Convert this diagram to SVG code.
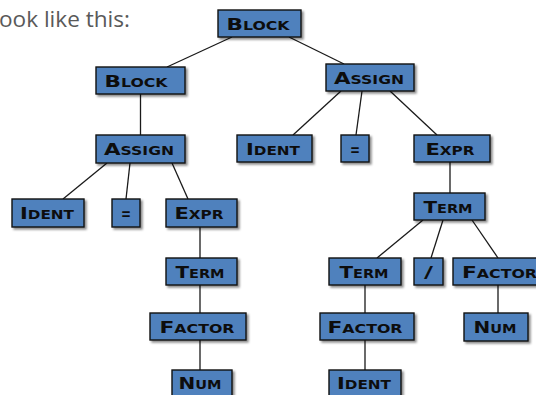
<svg xmlns="http://www.w3.org/2000/svg" width="536" height="395" viewBox="0 0 536 395">
<style>
.box{fill:#4F81BD;stroke:#111;stroke-width:1.4;filter:url(#sh)}
.lbl{font-family:"DejaVu Sans",sans-serif;font-weight:bold;font-variant:small-caps;font-size:16.5px;fill:#0d0d0d;text-anchor:middle}
.edge{stroke:#1a1a1a;stroke-width:1.3;fill:none}
.cap{font-family:"Open Sans","Liberation Sans",sans-serif;font-size:21px;fill:#595959}
</style>
<defs>
<filter id="sh" x="-20%" y="-30%" width="140%" height="170%">
<feDropShadow dx="2" dy="2" stdDeviation="1.2" flood-color="#000" flood-opacity="0.45"/>
</filter>
</defs>
<rect width="536" height="395" fill="#fff"/>
<text class="cap" x="-1" y="27" textLength="131" lengthAdjust="spacingAndGlyphs">ook like this:</text>
<g id="connectors">
<line class="edge" x1="232" y1="37" x2="167" y2="67"/>
<line class="edge" x1="289" y1="37" x2="344" y2="64"/>
<line class="edge" x1="140.5" y1="94" x2="140.5" y2="135"/>
<line class="edge" x1="107" y1="163" x2="63" y2="199"/>
<line class="edge" x1="130" y1="163" x2="126" y2="199"/>
<line class="edge" x1="172" y1="163" x2="188" y2="199"/>
<line class="edge" x1="200" y1="227" x2="200" y2="258"/>
<line class="edge" x1="200" y1="285" x2="200" y2="313"/>
<line class="edge" x1="200" y1="340" x2="200" y2="370"/>
<line class="edge" x1="341" y1="91" x2="293" y2="135"/>
<line class="edge" x1="362" y1="91" x2="356" y2="135"/>
<line class="edge" x1="390" y1="91" x2="437" y2="135"/>
<line class="edge" x1="450" y1="162" x2="450" y2="193"/>
<line class="edge" x1="423" y1="220" x2="377" y2="258"/>
<line class="edge" x1="443" y1="220" x2="431" y2="258"/>
<line class="edge" x1="472" y1="220" x2="498" y2="258"/>
<line class="edge" x1="365" y1="285" x2="365" y2="313"/>
<line class="edge" x1="365" y1="340" x2="365" y2="370"/>
<line class="edge" x1="498" y1="285" x2="498" y2="313"/>
</g>
<g id="block_root"><rect class="box" x="218" y="10" width="83" height="27"/><text class="lbl" x="258" y="30" textLength="63" lengthAdjust="spacingAndGlyphs">Block</text></g>
<g id="block"><rect class="box" x="96" y="67" width="89" height="27"/><text class="lbl" x="136" y="87" textLength="63" lengthAdjust="spacingAndGlyphs">Block</text></g>
<g id="assign_r"><rect class="box" x="326" y="64" width="88" height="27"/><text class="lbl" x="369" y="84" textLength="70" lengthAdjust="spacingAndGlyphs">Assign</text></g>
<g id="assign_l"><rect class="box" x="96" y="135" width="89" height="28"/><text class="lbl" x="139" y="155" textLength="70" lengthAdjust="spacingAndGlyphs">Assign</text></g>
<g id="ident_r"><rect class="box" x="237" y="135" width="75" height="27"/><text class="lbl" x="273" y="155" textLength="54" lengthAdjust="spacingAndGlyphs">Ident</text></g>
<g id="eq_r"><rect class="box" x="341" y="135" width="28" height="27"/><text class="lbl" x="355" y="155" textLength="10" lengthAdjust="spacingAndGlyphs">=</text></g>
<g id="expr_r"><rect class="box" x="414" y="135" width="76" height="27"/><text class="lbl" x="450" y="155" textLength="49" lengthAdjust="spacingAndGlyphs">Expr</text></g>
<g id="ident_l"><rect class="box" x="12" y="199" width="72" height="28"/><text class="lbl" x="47" y="219" textLength="54" lengthAdjust="spacingAndGlyphs">Ident</text></g>
<g id="eq_l"><rect class="box" x="112" y="199" width="28" height="28"/><text class="lbl" x="126" y="219" textLength="10" lengthAdjust="spacingAndGlyphs">=</text></g>
<g id="expr_l"><rect class="box" x="166" y="199" width="71" height="28"/><text class="lbl" x="199" y="219" textLength="49" lengthAdjust="spacingAndGlyphs">Expr</text></g>
<g id="term_r"><rect class="box" x="414" y="193" width="71" height="27"/><text class="lbl" x="448" y="213" textLength="49" lengthAdjust="spacingAndGlyphs">Term</text></g>
<g id="term_l"><rect class="box" x="166" y="258" width="71" height="27"/><text class="lbl" x="200" y="278" textLength="49" lengthAdjust="spacingAndGlyphs">Term</text></g>
<g id="term_rl"><rect class="box" x="329" y="258" width="72" height="27"/><text class="lbl" x="364" y="278" textLength="49" lengthAdjust="spacingAndGlyphs">Term</text></g>
<g id="slash"><rect class="box" x="414" y="258" width="29" height="27"/><text class="lbl" x="428.5" y="278" textLength="9" lengthAdjust="spacingAndGlyphs">/</text></g>
<g id="factor_rr"><rect class="box" x="453" y="258" width="92" height="27"/><text class="lbl" x="499.5" y="278" textLength="75" lengthAdjust="spacingAndGlyphs">Factor</text></g>
<g id="factor_l"><rect class="box" x="150" y="313" width="96" height="27"/><text class="lbl" x="197" y="333" textLength="75" lengthAdjust="spacingAndGlyphs">Factor</text></g>
<g id="factor_rl"><rect class="box" x="320" y="313" width="94" height="27"/><text class="lbl" x="365" y="333" textLength="75" lengthAdjust="spacingAndGlyphs">Factor</text></g>
<g id="num_rr"><rect class="box" x="464" y="313" width="64" height="28"/><text class="lbl" x="495" y="333" textLength="43" lengthAdjust="spacingAndGlyphs">Num</text></g>
<g id="num_l"><rect class="box" x="172" y="370" width="60" height="27"/><text class="lbl" x="200" y="389" textLength="43" lengthAdjust="spacingAndGlyphs">Num</text></g>
<g id="ident_b"><rect class="box" x="329" y="370" width="72" height="27"/><text class="lbl" x="364" y="389" textLength="54" lengthAdjust="spacingAndGlyphs">Ident</text></g>
</svg>
